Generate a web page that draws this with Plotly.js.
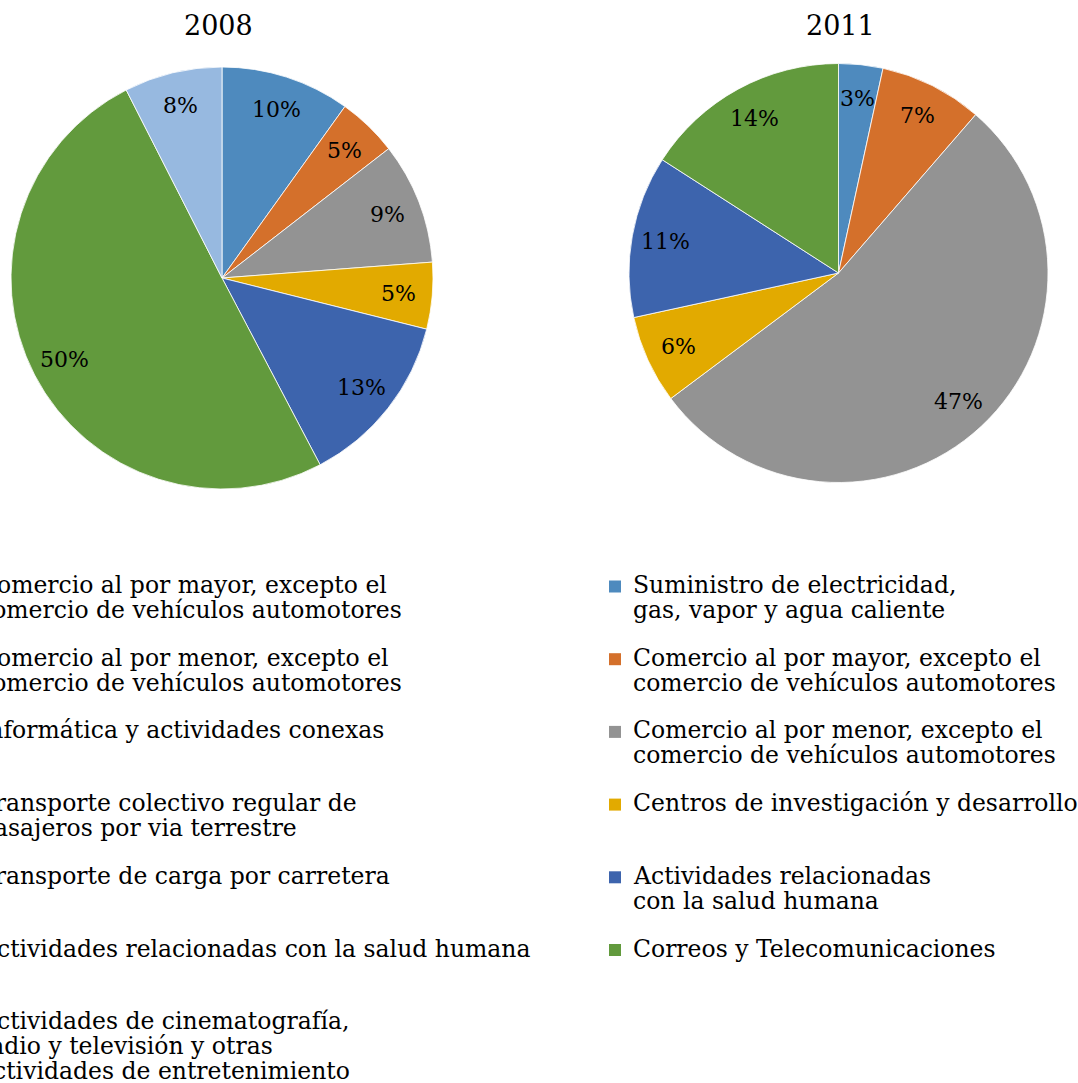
<!DOCTYPE html>
<html>
<head>
<meta charset="utf-8">
<script src="https://cdn.plot.ly/plotly-3.0.1.min.js"></script>
<style>
  html, body { margin: 0; padding: 0; background: #ffffff; }
  #chart { width: 1078px; height: 1083px; }
</style>
</head>
<body>
<div id="chart"></div>
<script>
// ---- Data ----
const title2008 = "2008";
const title2011 = "2011";

const labels2008 = [
  "Comercio al por mayor, excepto el<br>comercio de vehículos automotores",
  "Comercio al por menor, excepto el<br>comercio de vehículos automotores",
  "Informática y actividades conexas",
  "Transporte colectivo regular de<br>pasajeros por via terrestre",
  "Transporte de carga por carretera",
  "Actividades relacionadas con la salud humana",
  "Actividades de cinematografía,<br>radio y televisión y otras<br>actividades de entretenimiento"
];
const values2008 = [9.9, 4.6, 9.3, 5.1, 13.4, 50.2, 7.5];

const labels2011 = [
  "Suministro de electricidad,<br>gas, vapor y agua caliente",
  "Comercio al por mayor, excepto el<br>comercio de vehículos automotores",
  "Comercio al por menor, excepto el<br>comercio de vehículos automotores",
  "Centros de investigación y desarrollo",
  "Actividades relacionadas<br>con la salud humana",
  "Correos y Telecomunicaciones"
];
const values2011 = [3, 7, 47, 6, 11, 14];

const palette = ["#4E8ABE", "#D4702B", "#939393", "#E2AA00", "#3D64AD", "#629A3D", "#97B9E0"];

// ---- Layout constants (pixels) ----
const W = 1078, H = 1083;
const FONT = "DejaVu Serif";
const pies = [
  { labels: labels2008, values: values2008, title: title2008, dom: { x0: 11, x1: 433, y0: 67, y1: 489 }, titleX: 218,
    legText: -22, legMark: -46 },
  { labels: labels2011, values: values2011, title: title2011, dom: { x0: 629, x1: 1048, y0: 63, y1: 483 }, titleX: 840,
    legText: 632, legMark: 609 }
];
const LEG_BASE0 = 593, LEG_STEP = 72.7, LEG_LINE = 25, LEG_FONT = 23.5;
const LABEL_R = 0.84;

const px = v => v / W;
const py = v => 1 - v / H;

const traces = [];
const annotations = [];
const shapes = [];

pies.forEach((p, k) => {
  const suffix = k === 0 ? "" : "\u200b";
  traces.push({
    type: "pie",
    name: p.title,
    labels: p.labels.map(l => l.replace(/<br>/g, " ") + suffix),
    values: p.values,
    sort: false,
    direction: "clockwise",
    rotation: 0,
    marker: { colors: palette.slice(0, p.values.length), line: { color: "#ffffff", width: 0.8 } },
    textinfo: "none",
    showlegend: false,
    domain: { x: [px(p.dom.x0), px(p.dom.x1)], y: [py(p.dom.y1), py(p.dom.y0)] },
    hoverinfo: "label+value"
  });

  // Title
  annotations.push({
    text: p.title, x: px(p.titleX), y: py(26), xref: "paper", yref: "paper",
    xanchor: "center", yanchor: "middle", showarrow: false,
    font: { family: FONT, size: 27, color: "#000000" }
  });

  // Data labels at mid-angle of each slice (computed from the values)
  const cx = (p.dom.x0 + p.dom.x1) / 2, cy = (p.dom.y0 + p.dom.y1) / 2;
  const R = Math.min(p.dom.x1 - p.dom.x0, p.dom.y1 - p.dom.y0) / 2;
  const total = p.values.reduce((a, b) => a + b, 0);
  let cum = 0;
  p.values.forEach(v => {
    const mid = (cum + v / 2) / total * 2 * Math.PI;
    cum += v;
    const lx = cx + LABEL_R * R * Math.sin(mid);
    const ly = cy - LABEL_R * R * Math.cos(mid);
    annotations.push({
      text: Math.round(v) + "%", x: px(lx), y: py(ly), xref: "paper", yref: "paper",
      xanchor: "center", yanchor: "middle", showarrow: false,
      font: { family: FONT, size: 22, color: "#000000" }
    });
  });

  // Legend (markers + text lines)
  p.labels.forEach((lbl, i) => {
    const base = LEG_BASE0 + LEG_STEP * i;
    shapes.push({
      type: "rect", xref: "paper", yref: "paper",
      x0: px(p.legMark), x1: px(p.legMark + 12),
      y0: py(base - 0.5), y1: py(base - 12.5),
      fillcolor: palette[i], line: { width: 0 }
    });
    lbl.split("<br>").forEach((line, j) => {
      annotations.push({
        text: line, x: px(p.legText), y: py(base + LEG_LINE * j - 8), xref: "paper", yref: "paper",
        xanchor: "left", yanchor: "middle", align: "left", showarrow: false, borderpad: 0,
        font: { family: FONT, size: LEG_FONT, color: "#000000" }
      });
    });
  });
});

const layout = {
  width: W,
  height: H,
  margin: { l: 0, r: 0, t: 0, b: 0, autoexpand: false },
  paper_bgcolor: "#ffffff",
  plot_bgcolor: "#ffffff",
  font: { family: FONT, color: "#000000" },
  showlegend: false,
  annotations: annotations,
  shapes: shapes
};

Plotly.newPlot("chart", traces, layout, { displayModeBar: false, staticPlot: true });
</script>
</body>
</html>
